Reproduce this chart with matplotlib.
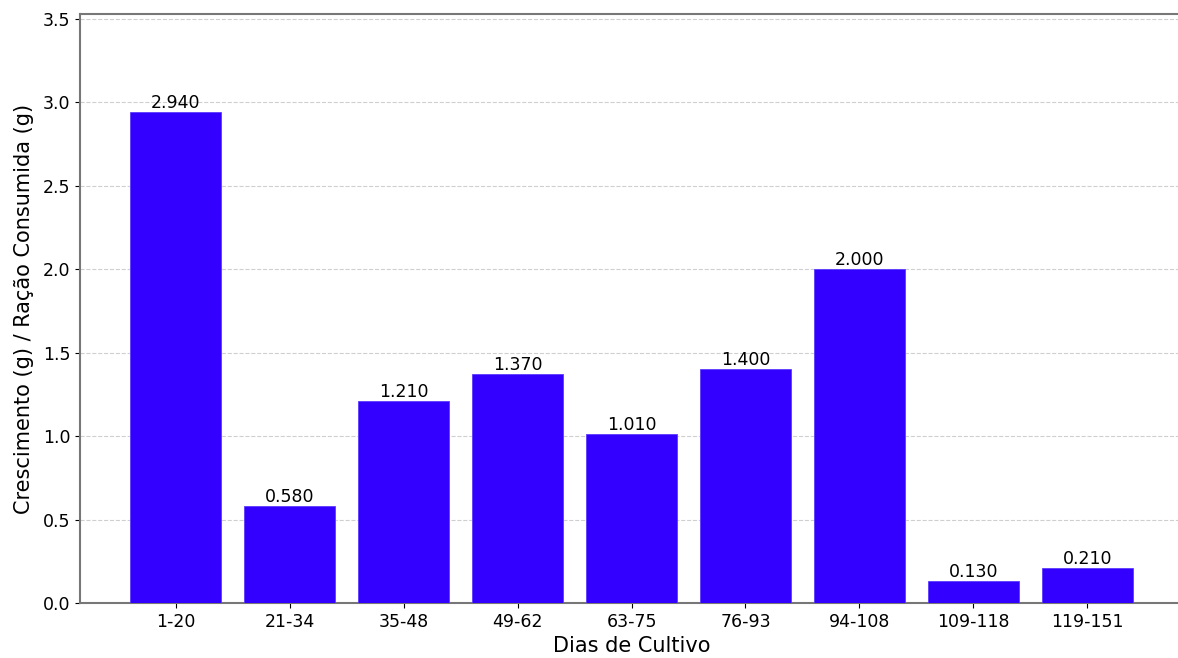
import matplotlib
matplotlib.use("Agg")
import matplotlib.pyplot as plt

periodos = ["1-20", "21-34", "35-48", "49-62", "63-75", "76-93", "94-108", "109-118", "119-151"]
razao = [2.94, 0.58, 1.21, 1.37, 1.01, 1.40, 2.00, 0.13, 0.21]

fig = plt.figure(figsize=(11.78, 6.58), dpi=100)
ax = fig.add_axes([80 / 1178, 55 / 658, (1183 - 80) / 1178, (603 - 14) / 658])

bars = ax.bar(periodos, razao, color="#3300ff", edgecolor="#5a3cff", linewidth=0.6, width=0.8, zorder=3)
for b, v in zip(bars, razao):
    ax.text(b.get_x() + b.get_width() / 2, v, f"{v:.3f}", ha="center", va="bottom", fontsize=12.5, zorder=4)

ax.set_ylim(0, max(razao) * 1.2)
ax.set_xlim(-0.84, 8.84)
ax.set_xlabel("Dias de Cultivo", fontsize=15, labelpad=4)
ax.set_ylabel("Crescimento (g) / Ração Consumida (g)", fontsize=15, labelpad=6)
ax.tick_params(labelsize=12.5)
ax.grid(axis="y", linestyle="--", alpha=0.6, zorder=0)
for s in ax.spines.values():
    s.set_color("#777777")
    s.set_linewidth(1.5)

fig.savefig("out.png", dpi=100)
